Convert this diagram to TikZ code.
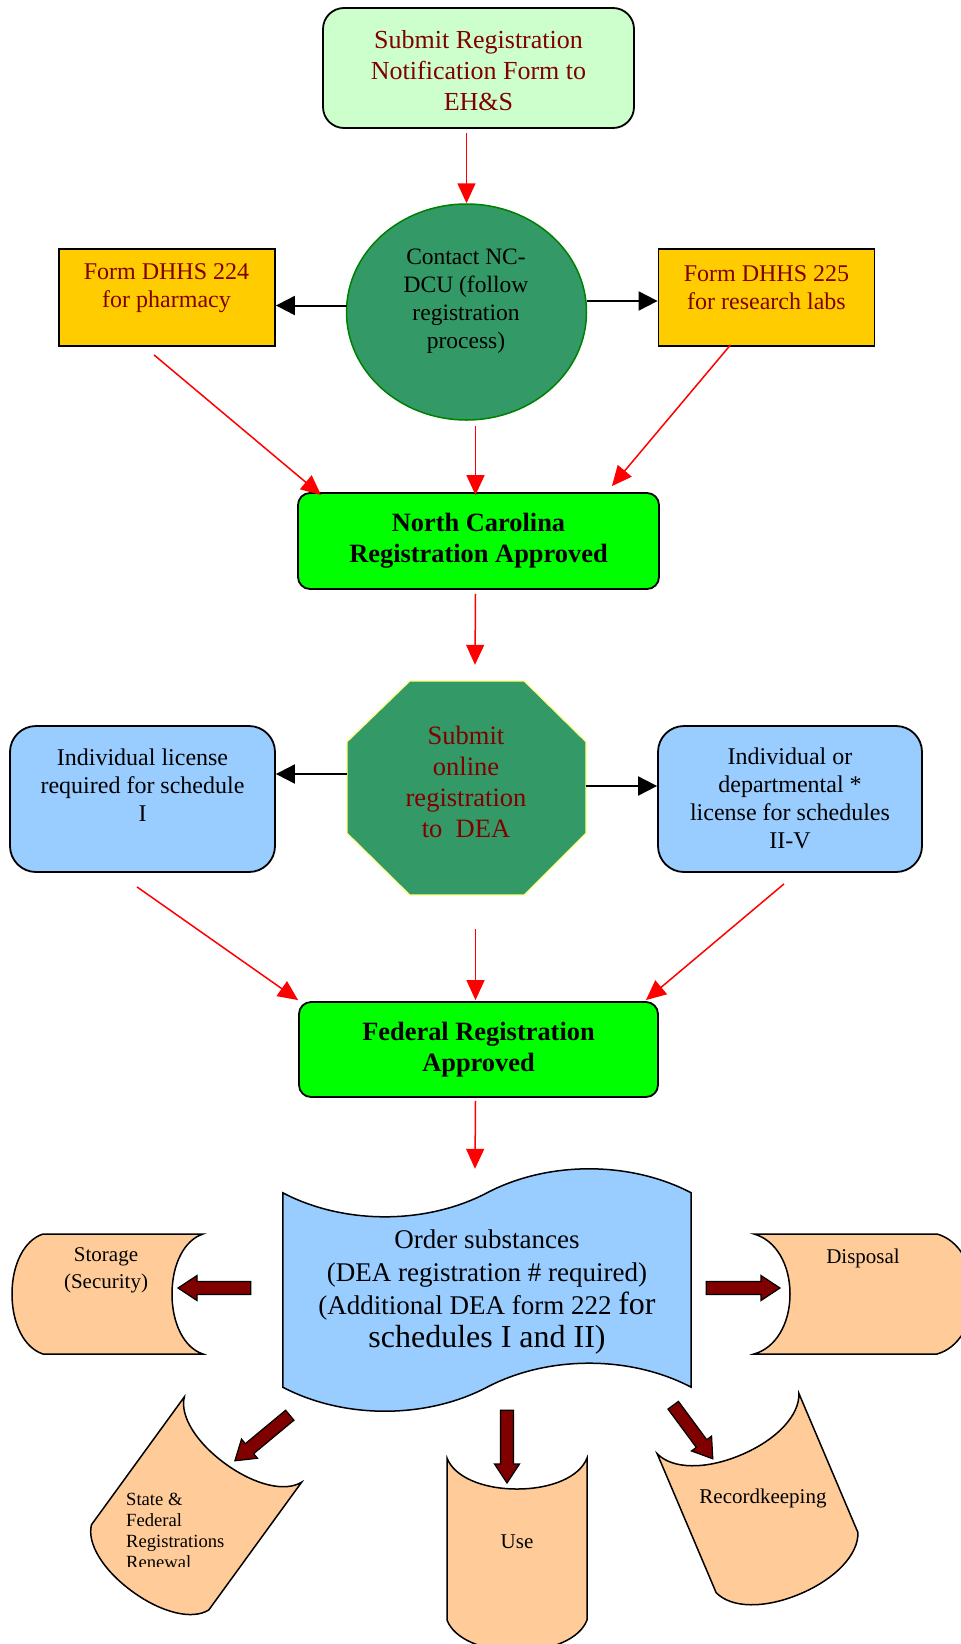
\documentclass[tikz,border=0pt]{standalone}
\usepackage{fontspec}
\setmainfont{Liberation Serif}
\usetikzlibrary{shapes.geometric,arrows.meta,calc,positioning}

\definecolor{darkred}{HTML}{800000}
\definecolor{palegreen}{HTML}{CCFFCC}
\definecolor{seagreen}{HTML}{339966}
\definecolor{darkgreen}{HTML}{008000}
\definecolor{formgold}{HTML}{FFCC00}
\definecolor{brightgreen}{HTML}{00FF00}
\definecolor{skyblue}{HTML}{99CCFF}
\definecolor{peach}{HTML}{FFCC99}
\definecolor{paleyellow}{HTML}{FFFF99}

\tikzset{
  every node/.style={inner sep=0pt},
  flowbox/.style={draw=black, line width=1.8pt},
  redtext/.style={text=darkred, align=center},
  blacktext/.style={text=black, align=center},
  redarrow/.style={red, line width=1.5pt, -{Triangle[length=20pt,width=18pt]}},
  blackarrow/.style={black, line width=2pt, -{Triangle[length=19pt,width=19pt]}},
  blockarrow/.style={fill=darkred, draw=black, line width=1.2pt},
  peachshape/.style={fill=peach, draw=black, line width=1.5pt}
}

% stored data shape: name, chord middle, rotation, width, length, bend
\newcommand{\storedshape}[6]{%
  \begin{scope}[shift={(#2)}, rotate=#3]
    \filldraw[peachshape] ({-#4/2},0) .. controls ({-0.45*#4},{0.6*#6}) and ({-0.25*#4},#6) .. (0,#6)
      .. controls ({0.25*#4},#6) and ({0.45*#4},{0.6*#6}) .. ({#4/2},0) -- ({#4/2},#5)
      .. controls ({0.45*#4},{#5+0.6*#6}) and ({0.25*#4},{#5+#6}) .. (0,{#5+#6})
      .. controls ({-0.25*#4},{#5+#6}) and ({-0.45*#4},{#5+0.6*#6}) .. ({-#4/2},#5) -- cycle;
    \coordinate (#1) at (0,#6);
  \end{scope}}

% thick outlined arrow from #1 to #2
\newcommand{\blockarrow}[2]{%
  \path #1 coordinate (fa1) #2 coordinate (fa2);
  \coordinate (fa3) at ($(fa2)!19pt!(fa1)$);
  \filldraw[blockarrow] ($(fa1)!6.5pt!90:(fa2)$) -- ($(fa3)!6.5pt!90:(fa2)$) -- ($(fa3)!12.5pt!90:(fa2)$)
    -- (fa2) -- ($(fa3)!12.5pt!-90:(fa2)$) -- ($(fa3)!6.5pt!-90:(fa2)$) -- ($(fa1)!6.5pt!-90:(fa2)$) -- cycle;}

\begin{document}
\begin{tikzpicture}[x=1pt,y=-1pt]
\useasboundingbox (0,0) rectangle (961,1644);

% North Carolina part
\node (regform) [flowbox, fill=palegreen, rounded corners=21pt, minimum width=311pt, minimum height=120pt] at (478.5,68) {};
\node [redtext, font=\fontsize{26}{31}\selectfont] at (478.5,71) {Submit Registration\\Notification Form to\\EH\&S};

\node (contact) [ellipse, draw=darkgreen, line width=1.5pt, fill=seagreen, minimum width=240pt, minimum height=216pt] at (466.5,312) {};
\node [blacktext, font=\fontsize{23.5}{28}\selectfont] at (466,301) {Contact NC-\\DCU (follow\\registration\\process)};

\node (form224) [flowbox, fill=formgold, minimum width=216pt, minimum height=97pt] at (167,297.5) {};
\node [redtext, font=\fontsize{24}{28}\selectfont] at (166.5,288) {Form DHHS 224\\for pharmacy};
\node (form225) [flowbox, fill=formgold, minimum width=216pt, minimum height=97pt] at (766.5,297.5) {};
\node [redtext, font=\fontsize{24}{28}\selectfont] at (766.5,288) {Form DHHS 225\\for research labs};

\node (ncok) [flowbox, fill=brightgreen, rounded corners=12pt, minimum width=361pt, minimum height=96pt,
  align=center, font=\bfseries\fontsize{26.4}{31}\selectfont] at (478.5,541) {North Carolina\\Registration Approved};

\draw[redarrow] ($(regform.south -| contact.north)+(0,4)$) -- (contact.north);
\draw[blackarrow] ($(contact.west)+(1,-6.5)$) -- ($(form224.east)+(0,8)$);
\draw[blackarrow] ($(contact.east)+(0,-11)$) -- ($(form225.west)+(0,3.5)$);
\draw[redarrow] ($(form224.south)+(-13,8)$) -- ($(ncok.north west)+(24,3)$);
\draw[redarrow] ($(contact.south -| ncok.north)+(-3,5)$) -- ($(ncok.north)+(-3,3)$);
\draw[redarrow] ($(form225.south)+(-36,-2)$) -- ($(ncok.north east)+(-48,-6)$);

% DEA part
\node (dea) [minimum width=239pt, minimum height=214pt] at (466.5,788) {};
\filldraw[fill=seagreen, draw=paleyellow, line width=1.5pt] ($(dea.north west)+(63,0)$) -- ($(dea.north east)+(-62,0)$)
  -- ($(dea.north east)+(0,61)$) -- ($(dea.south east)+(0,-62)$) -- ($(dea.south east)+(-62,0)$)
  -- ($(dea.south west)+(63,0)$) -- ($(dea.south west)+(0,-62)$) -- ($(dea.north west)+(0,61)$) -- cycle;
\node [redtext, font=\fontsize{26.5}{31}\selectfont] at (466,782) {Submit\\online\\registration\\to\ \ DEA};

\node (lic1) [flowbox, fill=skyblue, rounded corners=26pt, minimum width=265pt, minimum height=146pt] at (142.5,799) {};
\node [blacktext, font=\fontsize{24}{28}\selectfont] at (142.5,785) {Individual license\\required for schedule\\I};
\node (lic2) [flowbox, fill=skyblue, rounded corners=26pt, minimum width=264pt, minimum height=146pt] at (790,799) {};
\node [blacktext, font=\fontsize{24}{28}\selectfont] at (790,798.5) {Individual or\\departmental *\\license for schedules\\II-V};

\node (fedok) [flowbox, fill=brightgreen, rounded corners=12pt, minimum width=359pt, minimum height=95pt,
  align=center, font=\bfseries\fontsize{26.4}{31}\selectfont] at (478.5,1049.5) {Federal Registration\\Approved};

\draw[redarrow] ($(ncok.south)+(-3,4)$) -- ($(dea.north)+(8.5,-16)$);
\draw[blackarrow] ($(dea.west)+(0,-14)$) -- ($(lic1.east)+(0,-25)$);
\draw[blackarrow] ($(dea.east)+(0,-2)$) -- ($(lic2.west)+(0,-13)$);
\draw[redarrow] ($(lic1.south)+(-5.5,14)$) -- ($(fedok.north west)+(0,-1)$);
\draw[redarrow] ($(dea.south -| fedok.north)+(-3,34)$) -- ($(fedok.north)+(-3,-1)$);
\draw[redarrow] ($(lic2.south)+(-6,11)$) -- ($(fedok.north east)+(-13,-1)$);

% ordering and after
\node (order) [minimum width=408pt, minimum height=194pt] at (487,1290) {};
\filldraw[fill=skyblue, draw=black, line width=1.5pt] (order.north west) .. controls +(61,32) and +(-61,32) .. (order.north)
  .. controls +(61,-32) and +(-61,-32) .. (order.north east) -- (order.south east)
  .. controls +(-61,-32) and +(61,-32) .. (order.south) .. controls +(-61,32) and +(61,32) .. (order.south west) -- cycle;
\node [blacktext, font=\fontsize{27}{33}\selectfont] at (487,1292) {Order substances\\(DEA registration \# required)\\(Additional DEA form 222 {\fontsize{32}{33}\selectfont for}\\{\fontsize{32}{33}\selectfont schedules I and II)}};

\draw[redarrow] ($(fedok.south)+(-3,3)$) -- ($(order.north)+(-12,-24)$);

\storedshape{storage}{203,1294}{-90}{120}{160}{31}
\storedshape{disposal}{754,1294}{90}{120}{183}{36}
\storedshape{renewal}{243,1439.5}{-36}{145}{158}{30}
\storedshape{use}{517,1458}{0}{140}{162}{31}
\storedshape{records}{728,1423.5}{23}{154}{151}{34}

\node (storagetext) [blacktext, font=\fontsize{21}{27}\selectfont] at (106,1270.5) {Storage\\(Security)};
\node (disposaltext) [font=\fontsize{21}{27}\selectfont] at (863,1258) {Disposal};
\begin{scope}
  \clip (0,0) rectangle (961,1566);
  \node (renewaltext) [align=left, anchor=west, font=\fontsize{18.6}{21}\selectfont] at (126,1530.5) {State \&\\Federal\\Registrations\\Renewal};
\end{scope}
\node (usetext) [font=\fontsize{21}{27}\selectfont] at (517,1542) {Use};
\node (recordstext) [font=\fontsize{21}{27}\selectfont] at (763,1498) {Recordkeeping};

\blockarrow{($(order.west)+(-32,-2)$)}{($(storage)+(6,-6)$)}
\blockarrow{($(order.east)+(15,-2)$)}{($(disposal)+(-10,-6)$)}
\blockarrow{($(order.south west)+(7,28)$)}{($(renewal)+(9.5,-3)$)}
\blockarrow{($(order.south)+(20,23)$)}{($(use)+(-10,-6)$)}
\blockarrow{($(order.south east)+(-18,18)$)}{($(records)+(-28.5,4)$)}

\end{tikzpicture}
\end{document}
